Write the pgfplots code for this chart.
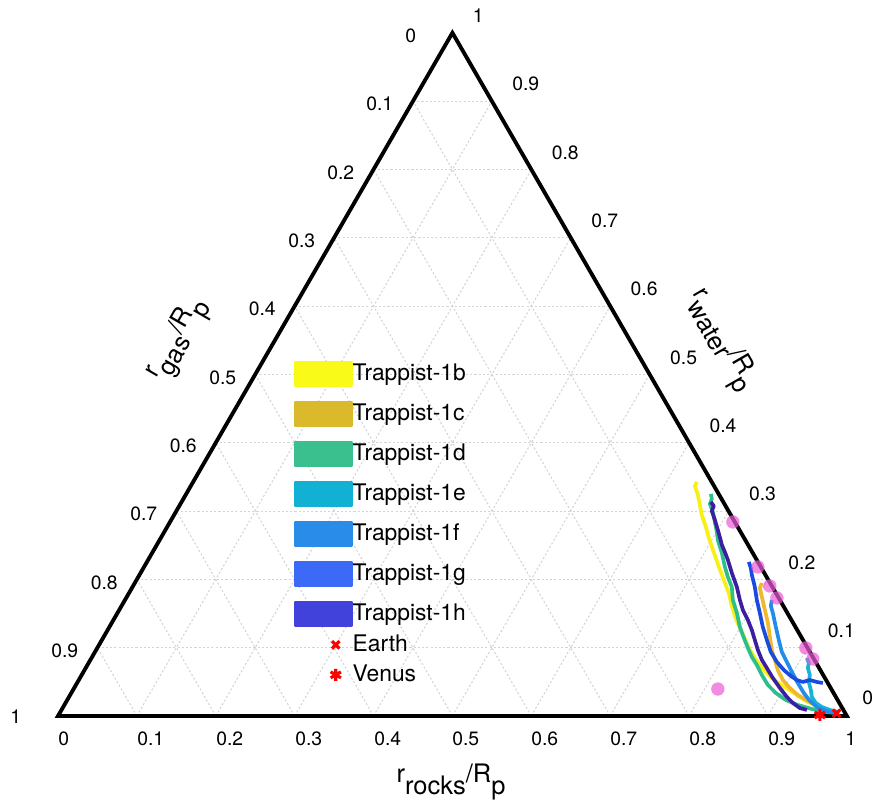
\documentclass[border=0pt]{standalone}
\usepackage{fontspec}
\setmainfont{TeX Gyre Heros}
\usepackage{pgfplots}
\pgfplotsset{compat=1.18}
\definecolor{c1b}{RGB}{248,240,20}
\definecolor{c1c}{RGB}{240,185,45}
\definecolor{c1d}{RGB}{45,190,140}
\definecolor{c1e}{RGB}{25,178,215}
\definecolor{c1f}{RGB}{35,140,235}
\definecolor{c1g}{RGB}{25,75,225}
\definecolor{c1h}{RGB}{60,30,160}
\definecolor{p1b}{RGB}{250,250,25}
\definecolor{p1c}{RGB}{218,186,42}
\definecolor{p1d}{RGB}{58,192,142}
\definecolor{p1e}{RGB}{18,176,210}
\definecolor{p1f}{RGB}{40,140,232}
\definecolor{p1g}{RGB}{60,105,245}
\definecolor{p1h}{RGB}{65,65,220}
\definecolor{pinkc}{RGB}{235,90,215}
\definecolor{gridc}{RGB}{212,212,212}
\tikzset{grd/.style={draw=gridc, line width=0.6pt, dash pattern=on 1.2pt off 1.2pt}}
\pgfplotsset{
  patchleg/.style={legend image code/.code={\fill[#1] (0cm,-0.23cm) rectangle (1.1cm,0.23cm);}},
  markleg/.style={legend image code/.code={\path (0cm,0cm) (1.1cm,0cm); \draw[##1] plot coordinates {(0.8cm,0cm)};}},
  curve/.style={line width=2.1pt, line join=round},
}
\begin{document}
\begin{tikzpicture}
\begin{axis}[
  x={(15.78cm,0cm)}, y={(7.89cm,13.666cm)},
  xmin=0, xmax=1, ymin=0, ymax=1,
  hide axis, clip=false,
  legend cell align=left,
  legend style={at={(axis cs:0.0341,0.5300)}, anchor=north west, draw=none, fill=none,
    inner sep=0pt, outer sep=0pt, row sep=0pt, column sep=0pt,
    font=\fontsize{13}{16}\selectfont,
    nodes={inner sep=0pt, minimum height=0.8cm}},
]
% grid: rocks = const
\draw[grd] (axis cs:0.1,0) -- (axis cs:0.1,0.9);
\draw[grd] (axis cs:0.2,0) -- (axis cs:0.2,0.8);
\draw[grd] (axis cs:0.3,0) -- (axis cs:0.3,0.7);
\draw[grd] (axis cs:0.4,0) -- (axis cs:0.4,0.6);
\draw[grd] (axis cs:0.5,0) -- (axis cs:0.5,0.5);
\draw[grd] (axis cs:0.6,0) -- (axis cs:0.6,0.4);
\draw[grd] (axis cs:0.7,0) -- (axis cs:0.7,0.3);
\draw[grd] (axis cs:0.8,0) -- (axis cs:0.8,0.2);
\draw[grd] (axis cs:0.9,0) -- (axis cs:0.9,0.1);
% grid: water = const
\draw[grd] (axis cs:0,0.1) -- (axis cs:0.9,0.1);
\draw[grd] (axis cs:0,0.2) -- (axis cs:0.8,0.2);
\draw[grd] (axis cs:0,0.3) -- (axis cs:0.7,0.3);
\draw[grd] (axis cs:0,0.4) -- (axis cs:0.6,0.4);
\draw[grd] (axis cs:0,0.5) -- (axis cs:0.5,0.5);
\draw[grd] (axis cs:0,0.6) -- (axis cs:0.4,0.6);
\draw[grd] (axis cs:0,0.7) -- (axis cs:0.3,0.7);
\draw[grd] (axis cs:0,0.8) -- (axis cs:0.2,0.8);
\draw[grd] (axis cs:0,0.9) -- (axis cs:0.1,0.9);
% grid: gas = const
\draw[grd] (axis cs:0.1,0) -- (axis cs:0,0.1);
\draw[grd] (axis cs:0.2,0) -- (axis cs:0,0.2);
\draw[grd] (axis cs:0.3,0) -- (axis cs:0,0.3);
\draw[grd] (axis cs:0.4,0) -- (axis cs:0,0.4);
\draw[grd] (axis cs:0.5,0) -- (axis cs:0,0.5);
\draw[grd] (axis cs:0.6,0) -- (axis cs:0,0.6);
\draw[grd] (axis cs:0.7,0) -- (axis cs:0,0.7);
\draw[grd] (axis cs:0.8,0) -- (axis cs:0,0.8);
\draw[grd] (axis cs:0.9,0) -- (axis cs:0,0.9);
\draw[black, line width=2.2pt, line join=miter] (axis cs:0,0) -- (axis cs:1,0) -- (axis cs:0,1) -- cycle;

\addplot[c1b, curve, patchleg=p1b] table {
r w
0.6386 0.3426
0.6390 0.3367
0.6494 0.3236
0.6592 0.3089
0.6690 0.2943
0.6829 0.2767
0.6948 0.2606
0.7087 0.2430
0.7183 0.2313
0.7287 0.2182
0.7445 0.1991
0.7603 0.1801
0.7736 0.1611
0.7883 0.1420
0.8027 0.1259
0.8171 0.1098
0.8288 0.0966
0.8409 0.0849
0.8523 0.0747
0.8651 0.0644
0.8771 0.0556
0.8916 0.0469
0.9054 0.0395
0.9159 0.0337
0.9265 0.0278
0.9403 0.0205
0.9559 0.0146
0.9715 0.0088
0.9831 0.0059
};
\addlegendentry{Trappist-1b}

\addplot[c1c, curve, patchleg=p1c] table {
r w
0.7949 0.1947
0.7960 0.1874
0.8052 0.1742
0.8185 0.1552
0.8318 0.1362
0.8446 0.1157
0.8566 0.0966
0.8677 0.0820
0.8788 0.0673
0.8925 0.0527
0.9073 0.0410
0.9225 0.0307
0.9396 0.0220
0.9559 0.0146
0.9748 0.0073
};
\addlegendentry{Trappist-1c}

\addplot[c1d, curve, patchleg=p1d] table {
r w
0.6651 0.3250
0.6700 0.3177
0.6712 0.3104
0.6808 0.2987
0.6907 0.2840
0.7005 0.2694
0.7076 0.2577
0.7222 0.2387
0.7363 0.2182
0.7474 0.2035
0.7597 0.1889
0.7706 0.1698
0.7852 0.1508
0.7992 0.1303
0.8124 0.1142
0.8247 0.0996
0.8364 0.0864
0.8485 0.0747
0.8623 0.0600
0.8772 0.0454
0.8931 0.0337
0.9110 0.0234
0.9298 0.0161
0.9505 0.0102
0.9704 0.0059
0.9851 0.0044
};
\addlegendentry{Trappist-1d}

\addplot[c1e, curve, patchleg=p1e] table {
r w
0.9068 0.0849
0.9130 0.0776
0.9154 0.0703
0.9231 0.0600
0.9269 0.0498
0.9353 0.0381
0.9417 0.0278
0.9512 0.0190
0.9617 0.0132
0.9741 0.0088
0.9856 0.0059
};
\addlegendentry{Trappist-1e}

\addplot[c1f, curve, patchleg=p1f] table {
r w
0.8200 0.1698
0.8231 0.1611
0.8308 0.1508
0.8448 0.1303
0.8581 0.1113
0.8707 0.0937
0.8844 0.0791
0.8981 0.0644
0.9137 0.0483
0.9286 0.0337
0.9421 0.0220
0.9554 0.0132
0.9697 0.0073
0.9839 0.0044
};
\addlegendentry{Trappist-1f}

\addplot[c1g, curve, patchleg=p1g] table {
r w
0.7630 0.2255
0.7699 0.2167
0.7764 0.2064
0.7889 0.1889
0.8010 0.1698
0.8143 0.1508
0.8283 0.1303
0.8429 0.1113
0.8568 0.0937
0.8717 0.0791
0.8865 0.0673
0.8997 0.0586
0.9102 0.0527
0.9193 0.0498
0.9267 0.0527
0.9371 0.0498
0.9454 0.0483
};
\addlegendentry{Trappist-1g}

\addplot[c1h, curve, patchleg=p1h] table {
r w
0.6709 0.3133
0.6776 0.3075
0.6788 0.3001
0.6892 0.2870
0.7003 0.2723
0.7079 0.2621
0.7164 0.2504
0.7253 0.2401
0.7350 0.2284
0.7495 0.2094
0.7661 0.1889
0.7795 0.1698
0.7906 0.1552
0.8042 0.1406
0.8166 0.1259
0.8277 0.1113
0.8389 0.0966
0.8513 0.0820
0.8634 0.0703
0.8784 0.0556
0.8946 0.0410
0.9101 0.0278
0.9221 0.0190
0.9345 0.0117
0.9449 0.0088
};
\addlegendentry{Trappist-1h}

\addplot[pinkc, only marks, mark=*, mark size=3.8pt, mark options={fill=pinkc, draw opacity=0, fill opacity=0.7}, forget plot] table {
r w
0.7135 0.2840
0.7781 0.2182
0.8072 0.1903
0.8249 0.1728
0.8982 0.0996
0.9151 0.0835
0.8167 0.0395
};

\addplot[red, only marks, mark=x, mark size=3pt, line width=1.8pt, markleg] coordinates {(0.985,0.004)};
\addlegendentry[minimum height=0.44cm]{Earth}
\addplot[red, only marks, mark=asterisk, mark size=3.4pt, line width=1.8pt, markleg] coordinates {(0.965,0.0015)};
\addlegendentry[minimum height=0.76cm]{Venus}

\coordinate (O) at (axis cs:0,0);
\end{axis}
\pgfresetboundingbox
\begin{scope}[shift={(O)}, x=0.02cm, y=-0.02cm, shift={(-58,-716)}]
\useasboundingbox (0,0) rectangle (872,804);
\begin{scope}[every node/.style={inner sep=0pt, font=\fontsize{11}{13}\selectfont}]
% bottom: rocks
\node[anchor=north west] at (58,731) {0};
\node[anchor=north west] at (137,731) {0.1};
\node[anchor=north west] at (216,731) {0.2};
\node[anchor=north west] at (295,731) {0.3};
\node[anchor=north west] at (374,731) {0.4};
\node[anchor=north west] at (452,731) {0.5};
\node[anchor=north west] at (531,731) {0.6};
\node[anchor=north west] at (610,731) {0.7};
\node[anchor=north west] at (689,731) {0.8};
\node[anchor=north west] at (768,731) {0.9};
\node[anchor=north west] at (845,731) {1};
% left: gas
\node[anchor=west] at (405,36) {0};
\node[anchor=west] at (366,104.3) {0.1};
\node[anchor=west] at (327,172.6) {0.2};
\node[anchor=west] at (288,240.9) {0.3};
\node[anchor=west] at (248.5,309.2) {0.4};
\node[anchor=west] at (209,377.5) {0.5};
\node[anchor=west] at (169.5,445.8) {0.6};
\node[anchor=west] at (130,514.1) {0.7};
\node[anchor=west] at (90.5,582.4) {0.8};
\node[anchor=west] at (51,650.7) {0.9};
\node[anchor=west] at (10,717) {1};
% right: water
\node[anchor=west] at (472.5,16) {1};
\node[anchor=west] at (512,84.3) {0.9};
\node[anchor=west] at (551.4,152.6) {0.8};
\node[anchor=west] at (590.9,220.9) {0.7};
\node[anchor=west] at (630.3,289.2) {0.6};
\node[anchor=west] at (669.8,357.5) {0.5};
\node[anchor=west] at (709.2,425.8) {0.4};
\node[anchor=west] at (748.7,494.1) {0.3};
\node[anchor=west] at (788.1,562.4) {0.2};
\node[anchor=west] at (827.6,630.7) {0.1};
\node[anchor=west] at (862,698) {0};
\end{scope}
\begin{scope}[every node/.style={inner sep=0pt, font=\fontsize{14.5}{17}\selectfont}]
\node[anchor=base] at (451,783) {r\raisebox{-6.8pt}{rocks}/R\raisebox{-6.8pt}{p}};
\node[anchor=base, rotate=60] at (179,340) {r\raisebox{-6.8pt}{gas}/R\raisebox{-6.8pt}{p}};
\node[anchor=base, rotate=-60] at (720,341) {r\raisebox{-6.8pt}{water}/R\raisebox{-6.8pt}{p}};
\end{scope}
\end{scope}
\end{tikzpicture}
\end{document}
